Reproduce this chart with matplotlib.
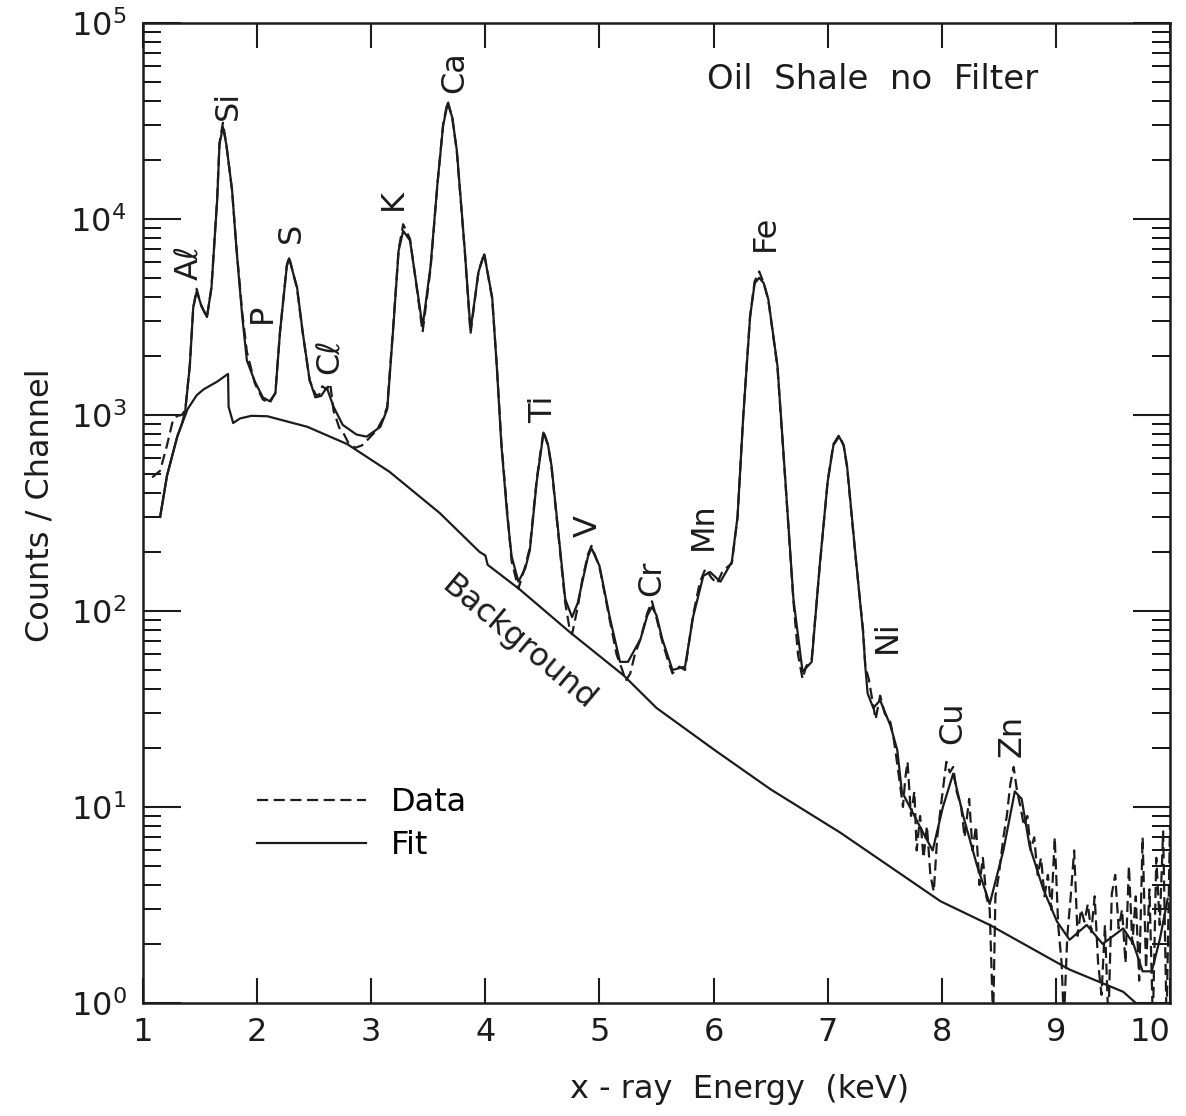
import matplotlib
matplotlib.use("Agg")
import matplotlib.pyplot as plt
from matplotlib.ticker import LogLocator, LogFormatterMathtext, NullFormatter, FixedLocator

# --- values (energy in keV, counts per channel) ---
energy_bkg = [1.15, 1.21, 1.30, 1.39, 1.47, 1.53, 1.65, 1.745, 1.75, 1.79, 1.85, 1.95, 2.09,
              2.44, 2.79, 3.16, 3.60, 3.95, 4.00, 4.02, 4.30, 4.74, 5.21, 5.50, 6.01, 6.50,
              7.11, 7.99, 8.42, 9.12, 9.59, 9.70, 9.85]
counts_bkg = [302, 490, 776, 1070, 1260, 1350, 1480, 1620, 1100, 910, 960, 990, 985,
              870, 710, 513, 316, 200, 192, 172, 129, 78, 47, 32, 19.5, 12.3,
              7.4, 3.3, 2.5, 1.48, 1.14, 1.0, 0.9]

energy_fit = [1.15, 1.21, 1.30, 1.34, 1.37, 1.41, 1.44, 1.47, 1.51, 1.56, 1.60, 1.65, 1.67,
              1.70, 1.73, 1.78, 1.82, 1.87, 1.91, 1.98, 2.05, 2.11, 2.16, 2.20, 2.26, 2.28,
              2.35, 2.40, 2.46, 2.51, 2.56, 2.61, 2.67, 2.75, 2.87, 2.96, 3.08, 3.14, 3.19,
              3.24, 3.28, 3.34, 3.40, 3.45, 3.52, 3.58, 3.63, 3.67, 3.71, 3.75, 3.82, 3.87,
              3.94, 3.99, 4.06, 4.10, 4.14, 4.19, 4.23, 4.29, 4.35, 4.39, 4.45, 4.51, 4.55,
              4.58, 4.64, 4.70, 4.76, 4.81, 4.85, 4.90, 4.93, 5.00, 5.09, 5.18, 5.25, 5.36,
              5.42, 5.46, 5.50, 5.55, 5.64, 5.75, 5.82, 5.91, 5.97, 6.06, 6.16, 6.21, 6.26,
              6.32, 6.36, 6.40, 6.44, 6.48, 6.56, 6.63, 6.70, 6.78, 6.86, 6.93, 7.00, 7.05,
              7.10, 7.14, 7.17, 7.24, 7.31, 7.33, 7.35, 7.40, 7.46, 7.55, 7.61, 7.65, 7.72,
              7.81, 7.92, 8.01, 8.10, 8.19, 8.31, 8.42, 8.54, 8.64, 8.70, 8.77, 8.89, 9.01,
              9.12, 9.27, 9.41, 9.59, 9.68, 9.76, 9.84, 9.91, 9.98]
counts_fit = [302, 490, 776, 900, 1050, 1780, 3550, 4270, 3630, 3160, 4470, 12600, 24000,
              29500, 24000, 14100, 6900, 3160, 1900, 1480, 1230, 1175, 1290, 2630, 5750, 6300,
              4470, 2630, 1510, 1230, 1250, 1380, 1100, 890, 795, 775, 870, 1070, 2630,
              6900, 8700, 7760, 4470, 2820, 5750, 15100, 30000, 38900, 33000, 22400, 6900, 2700,
              5370, 6600, 3980, 1780, 710, 316, 190, 141, 165, 204, 457, 813, 700,
              550, 251, 115, 93, 110, 141, 190, 209, 170, 93, 55, 55, 72,
              95, 105, 95, 72, 50, 52, 93, 151, 158, 141, 178, 302, 977,
              3160, 4700, 5010, 4700, 3890, 1780, 457, 115, 49, 55, 170, 457, 700,
              776, 700, 550, 204, 78, 52, 38, 32, 35, 26, 19.5, 12, 10,
              7.9, 6.0, 10, 14.8, 8.9, 5.0, 3.2, 6.0, 12, 11, 6.3, 3.8, 2.6,
              2.1, 2.5, 2.0, 2.4, 2.0, 1.45, 1.45, 2.1, 3.4]

energy_data = [1.08, 1.15, 1.21, 1.26, 1.30, 1.34, 1.37, 1.41, 1.44, 1.47, 1.51, 1.56, 1.60,
               1.65, 1.67, 1.70, 1.73, 1.78, 1.82, 1.87, 1.91, 1.95, 1.98, 2.05, 2.11, 2.16,
               2.20, 2.26, 2.28, 2.35, 2.40, 2.46, 2.51, 2.54, 2.57, 2.61, 2.64, 2.67, 2.72,
               2.76, 2.80, 2.86, 2.92, 2.98, 3.05, 3.10, 3.14, 3.19, 3.24, 3.28, 3.34, 3.40,
               3.45, 3.52, 3.58, 3.63, 3.67, 3.71, 3.75, 3.82, 3.87, 3.94, 3.99, 4.06, 4.10,
               4.14, 4.19, 4.23, 4.29, 4.35, 4.39, 4.45, 4.51, 4.55, 4.58, 4.64, 4.70, 4.74,
               4.76, 4.81, 4.85, 4.90, 4.93, 5.00, 5.09, 5.15, 5.20, 5.23, 5.27, 5.31, 5.36,
               5.42, 5.46, 5.50, 5.55, 5.60, 5.64, 5.70, 5.75, 5.82, 5.88, 5.93, 5.98, 6.03,
               6.08, 6.16, 6.21, 6.26, 6.32, 6.36, 6.40, 6.44, 6.48, 6.56, 6.63, 6.70, 6.74,
               6.78, 6.81, 6.86, 6.93, 7.00, 7.05, 7.10, 7.14, 7.17, 7.24, 7.31, 7.33, 7.36,
               7.42, 7.46, 7.50, 7.55, 7.58, 7.62, 7.66, 7.68, 7.70, 7.73, 7.76, 7.78, 7.81,
               7.84, 7.87, 7.90, 7.93, 7.96, 8.00, 8.04, 8.07, 8.10, 8.13, 8.17, 8.20, 8.24,
               8.27, 8.30, 8.33, 8.36, 8.39, 8.42, 8.45, 8.47, 8.50, 8.54, 8.57, 8.60, 8.63,
               8.66, 8.69, 8.72, 8.75, 8.78, 8.81, 8.84, 8.87, 8.90, 8.93, 8.96, 8.99, 9.02,
               9.05, 9.07, 9.10, 9.13, 9.16, 9.19, 9.22, 9.25, 9.28, 9.31, 9.34, 9.37, 9.40,
               9.43, 9.46, 9.49, 9.52, 9.55, 9.58, 9.61, 9.64, 9.67, 9.70, 9.73, 9.76, 9.79,
               9.82, 9.85, 9.88, 9.91, 9.94, 9.97, 10.0]
counts_data = [480, 520, 700, 930, 990, 1000, 1060, 1800, 3500, 4400, 3600, 3150, 4500,
               12800, 24500, 31000, 24000, 14000, 7000, 3300, 2100, 1700, 1450, 1200, 1150, 1300,
               2650, 5800, 6400, 4400, 2600, 1500, 1280, 1250, 1400, 1350, 1450, 1050, 860,
               800, 720, 680, 700, 760, 840, 950, 1100, 2700, 7000, 9400, 7900, 4400,
               2650, 5600, 15000, 30500, 40000, 33000, 22000, 6800, 2600, 5400, 6700, 3900, 1800,
               730, 330, 180, 130, 170, 210, 470, 830, 700, 540, 245, 110, 80,
               76, 105, 145, 195, 215, 168, 90, 60, 50, 44, 48, 60, 72,
               98, 112, 92, 70, 56, 48, 52, 50, 95, 140, 165, 148, 138,
               160, 175, 300, 990, 3200, 4800, 5400, 4700, 3850, 1750, 450, 112, 60,
               45, 52, 57, 168, 460, 710, 790, 700, 540, 200, 80, 52, 45,
               28, 37, 30, 27, 22, 15, 10, 14, 17, 9, 12, 6, 9,
               5.5, 8, 4.5, 3.7, 7, 11, 17, 15, 16, 12, 10, 7, 11,
               6, 8, 4, 5.5, 3.5, 3.0, 0.8, 3.5, 4.5, 7, 9, 13, 16,
               12, 10, 8, 9, 6, 7, 4.5, 5.5, 3.5, 4.5, 3.0, 7, 2.5,
               1.6, 0.8, 2.2, 3.5, 6, 2.2, 3, 2.6, 3.2, 2.3, 3.5, 1.6, 1.1,
               2.5, 0.8, 3.6, 4.5, 2.4, 3.0, 1.6, 5.0, 2.0, 3.5, 1.3, 7.0, 1.5,
               3.8, 0.8, 5.5, 2.5, 7.5, 0.8, 8]

elements = ["Aℓ", "Si", "P", "S", "Cℓ", "K", "Ca", "Ti", "V", "Cr", "Mn", "Fe", "Ni", "Cu", "Zn"]
label_energy = [1.41, 1.745, 2.05, 2.30, 2.64, 3.19, 3.73, 4.51, 4.90, 5.46, 5.91, 6.45, 7.52, 8.10, 8.62]
label_counts = [6000, 38000, 3300, 8500, 2000, 12600, 56000, 1070, 270, 147, 270, 8500, 74, 27, 23]

ink = "#1c1c1c"
plt.rcParams["font.family"] = ["DejaVu Sans"]
plt.rcParams["mathtext.default"] = "regular"
fs = 23

fig = plt.figure(figsize=(11.86, 11.16), dpi=100)
ax = fig.add_axes([0.1206, 0.1013, 0.8659, 0.8781])

ax.plot(energy_bkg, counts_bkg, color=ink, lw=1.6)
fit_line, = ax.plot(energy_fit, counts_fit, color=ink, lw=1.6)
data_line, = ax.plot(energy_data, counts_data, color=ink, lw=1.6, ls=(0, (5, 2.5)))

ax.set_yscale("log")
ax.set_xlim(1, 10)
ax.set_ylim(1, 1e5)

ax.xaxis.set_major_locator(FixedLocator(range(1, 11)))
ax.yaxis.set_major_locator(LogLocator(base=10, numticks=10))
ax.yaxis.set_minor_locator(LogLocator(base=10, subs=range(2, 10), numticks=20))
ax.yaxis.set_major_formatter(LogFormatterMathtext())
ax.yaxis.set_minor_formatter(NullFormatter())

ax.tick_params(axis="x", which="major", direction="in", top=True, bottom=True,
               length=18, width=1.5, pad=10, labelsize=fs, colors=ink)
ax.tick_params(axis="y", which="major", direction="in", left=True, right=True,
               length=27, width=1.5, pad=12, labelsize=fs, colors=ink)
ax.tick_params(axis="y", which="minor", direction="in", left=True, right=True,
               length=13, width=1.3)
for sp in ax.spines.values():
    sp.set_linewidth(1.8)
    sp.set_color(ink)
# keep the "10" inside the picture, as in the scan
ax.get_xticklabels()[-1].set_horizontalalignment("right")

for name, ex, cy in zip(elements, label_energy, label_counts):
    ax.text(ex, cy, name, rotation=90, ha="center", va="center", fontsize=fs, color=ink)

ax.text(4.29, 68, "Background", rotation=-40, rotation_mode="anchor",
        ha="center", va="center", fontsize=fs, color=ink)
ax.text(0.71, 0.942, "Oil  Shale  no  Filter", transform=ax.transAxes,
        ha="center", va="center", fontsize=24.5, color=ink)

ax.legend([data_line, fit_line], ["Data", "Fit"], loc="upper left",
          bbox_to_anchor=(0.083, 0.25), frameon=False, fontsize=fs,
          handlelength=3.4, handletextpad=0.8, labelspacing=0.4)

ax.set_xlabel("x - ray  Energy  (keV)", fontsize=fs, color=ink)
ax.set_ylabel("Counts / Channel", fontsize=fs, color=ink)
ax.xaxis.set_label_coords(0.581, -0.072)
ax.yaxis.set_label_coords(-0.085, 0.508)

fig.savefig("out.png", dpi=100)
